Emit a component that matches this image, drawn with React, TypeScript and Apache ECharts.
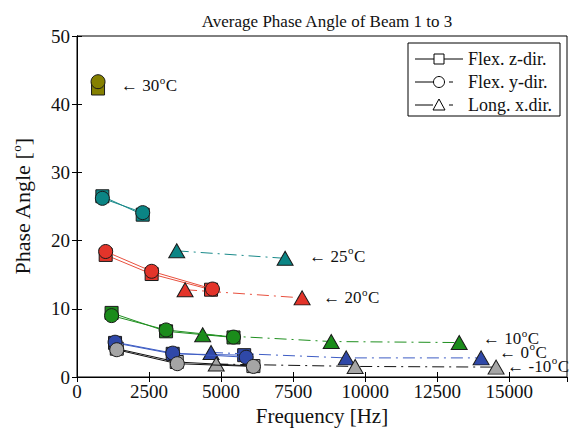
import React, { useEffect, useRef } from "react";
import * as echarts from "echarts";

const FONT = "'Liberation Serif', 'Times New Roman', serif";

const temps = ["30", "25", "20", "10", "0", "-10"];
const markerColors = ["#858000", "#0b8585", "#e3342a", "#1b8c1b", "#2f48a8", "#a5a5a5"];
const lineColors = ["#858000", "#1a8a8a", "#e8503e", "#1f8f1f", "#3d5cc4", "#111111"];

// Flex. z-dir (squares)
const squareData: number[][][] = [
  [[730, 42.3]],
  [[880, 26.5], [2280, 23.8]],
  [[995, 17.9], [2590, 15.1], [4650, 12.8]],
  [[1200, 9.4], [3090, 6.7], [5430, 5.8]],
  [[1320, 5.0], [3320, 3.4], [5800, 3.2]],
  [[1380, 4.15], [3460, 2.2], [6120, 1.6]],
];
// Flex. y-dir (circles)
const circleData: number[][][] = [
  [[730, 43.3]],
  [[880, 26.2], [2280, 24.1]],
  [[995, 18.4], [2590, 15.5], [4700, 12.9]],
  [[1200, 9.0], [3090, 6.9], [5430, 5.85]],
  [[1320, 5.1], [3320, 3.5], [5870, 2.9]],
  [[1380, 4.0], [3480, 1.95], [6120, 1.55]],
];
// Long. x.dir (triangles)
const triangleData: number[][][] = [
  [],
  [[3460, 18.5], [7220, 17.4]],
  [[3750, 12.8], [7810, 11.6]],
  [[4360, 6.2], [8820, 5.2], [13260, 5.05]],
  [[4650, 3.6], [9340, 2.8], [14020, 2.8]],
  [[4830, 1.9], [9650, 1.55], [14540, 1.45]],
];

// annotation anchors (data coords)
const annoX = [1530, 8060, 8540, 14090, 14650, 14930];
const annoY = [42.7, 17.7, 11.6, 5.6, 3.6, 1.55];

const legendLabels = ["Flex. z-dir.", "Flex. y-dir.", "Long. x.dir."];

export default function App() {
  const ref = useRef<HTMLDivElement>(null);
  useEffect(() => {
    const chart = echarts.init(ref.current!, undefined, { renderer: "svg" });
    const series: any[] = [];
    const border = { borderColor: "#1a1a1a", borderWidth: 1 };
    temps.forEach((t, i) => {
      series.push({
        type: "line",
        data: squareData[i],
        symbol: "rect",
        symbolSize: 13,
        itemStyle: { color: markerColors[i], ...border },
        lineStyle: { color: lineColors[i], width: 1 },
        z: 2,
      });
      if (triangleData[i].length) {
        series.push({
          type: "line",
          data: triangleData[i],
          symbol: "triangle",
          symbolSize: [16, 14],
          itemStyle: { color: markerColors[i], ...border },
          lineStyle: { color: lineColors[i], width: 1, type: [12, 5, 2, 5] },
          z: 3,
        });
      }
      series.push({
        type: "line",
        data: circleData[i],
        symbol: "circle",
        symbolSize: 14,
        itemStyle: { color: markerColors[i], ...border },
        lineStyle: { color: lineColors[i], width: 1 },
        z: 4,
      });
    });

    const axisCommon = {
      axisLine: { lineStyle: { color: "#000", width: 1 } },
      axisTick: { inside: true, length: 5, lineStyle: { color: "#000" } },
      splitLine: { show: false },
    };

    // legend graphic
    const lx = 408, ly = 43, rows = [59, 82, 105];
    const lg: any[] = [
      { type: "rect", shape: { x: lx, y: ly, width: 152, height: 73 }, style: { fill: "#fff", stroke: "#000", lineWidth: 1 }, z: 10 },
    ];
    rows.forEach((ry, k) => {
      if (k === 0) {
        lg.push({ type: "line", shape: { x1: 415, y1: ry, x2: 463, y2: ry }, style: { stroke: "#000", lineWidth: 1 }, z: 11 });
        lg.push({ type: "rect", shape: { x: 434, y: ry - 5, width: 10, height: 10 }, style: { fill: "#fff", stroke: "#000", lineWidth: 1 }, z: 12 });
      } else {
        lg.push({ type: "line", shape: { x1: 415, y1: ry, x2: 433, y2: ry }, style: { stroke: "#000", lineWidth: 1 }, z: 11 });
        lg.push({ type: "line", shape: { x1: 449, y1: ry, x2: 453, y2: ry }, style: { stroke: "#000", lineWidth: 1 }, z: 11 });
        if (k === 1) {
          lg.push({ type: "circle", shape: { cx: 439, cy: ry, r: 5.5 }, style: { fill: "#fff", stroke: "#000", lineWidth: 1 }, z: 12 });
        } else {
          lg.push({ type: "polygon", shape: { points: [[439, ry - 6], [433, ry + 5], [445, ry + 5]] }, style: { fill: "#fff", stroke: "#000", lineWidth: 1 }, z: 12 });
        }
      }
      lg.push({
        type: "text",
        x: 468,
        y: ry,
        style: { text: legendLabels[k], font: `18px ${FONT}`, fill: "#111", verticalAlign: "middle" },
        z: 12,
      });
    });

    chart.setOption({
      animation: false,
      backgroundColor: "#fff",
      title: {
        text: "Average Phase Angle of Beam 1 to 3",
        left: 322,
        top: 8,
        textAlign: "center",
        textStyle: { fontFamily: FONT, fontSize: 17, fontWeight: "normal", color: "#111" },
      },
      grid: { left: 77, right: 6, top: 36, bottom: 59, show: true, borderColor: "#000", borderWidth: 1 },
      xAxis: [
        {
          type: "value",
          min: 0,
          max: 17000,
          interval: 2500,
          name: "Frequency [Hz]",
          nameLocation: "middle",
          nameGap: 25,
          nameTextStyle: { fontFamily: FONT, fontSize: 21, color: "#111" },
          axisLabel: { fontFamily: FONT, fontSize: 19, color: "#111", margin: 5, showMaxLabel: false, formatter: (v: number) => String(v) },
          ...axisCommon,
        },
        {
          type: "value",
          position: "top",
          min: 0,
          max: 17000,
          interval: 2500,
          axisLabel: { show: false },
          ...axisCommon,
        },
      ],
      yAxis: [
        {
          type: "value",
          min: 0,
          max: 50,
          interval: 10,
          name: "{a|Phase Angle [}{s|o}{a|]}",
          nameLocation: "middle",
          nameGap: 43,
          nameTextStyle: {
            rich: {
              a: { fontFamily: FONT, fontSize: 22, color: "#111", lineHeight: 24 },
              s: { fontFamily: FONT, fontSize: 13, color: "#111", lineHeight: 24, verticalAlign: "top" },
            },
          },
          axisLabel: { fontFamily: FONT, fontSize: 19, color: "#111", margin: 7, formatter: (v: number) => String(v) },
          ...axisCommon,
        },
        {
          type: "value",
          position: "right",
          min: 0,
          max: 50,
          interval: 10,
          axisLabel: { show: false },
          ...axisCommon,
        },
      ],
      graphic: lg,
      series,
    });

    // temperature annotations, placed through the chart's own coordinate system
    const ctx = document.createElement("canvas").getContext("2d")!;
    const measure = (txt: string, font: string) => {
      ctx.font = font;
      return ctx.measureText(txt).width;
    };
    const mainFont = `17px ${FONT}`;
    const supFont = `11px ${FONT}`;
    const annos: any[] = [];
    temps.forEach((t, i) => {
      const p = chart.convertToPixel({ xAxisIndex: 0, yAxisIndex: 0 }, [annoX[i], annoY[i]]) as number[];
      const main = `← ${t}`;
      const w1 = measure(main, mainFont);
      const wo = measure("o", supFont);
      annos.push({ type: "text", x: p[0], y: p[1], style: { text: main, font: mainFont, fill: "#111", verticalAlign: "middle" }, z: 20 });
      annos.push({ type: "text", x: p[0] + w1 + 0.5, y: p[1] - 6, style: { text: "o", font: supFont, fill: "#111", verticalAlign: "middle" }, z: 20 });
      annos.push({ type: "text", x: p[0] + w1 + wo + 1, y: p[1], style: { text: "C", font: mainFont, fill: "#111", verticalAlign: "middle" }, z: 20 });
    });
    chart.setOption({ graphic: [...lg, ...annos] });

    return () => chart.dispose();
  }, []);
  return <div ref={ref} style={{ width: 573, height: 436, position: "absolute", left: 0, top: 0 }} />;
}
